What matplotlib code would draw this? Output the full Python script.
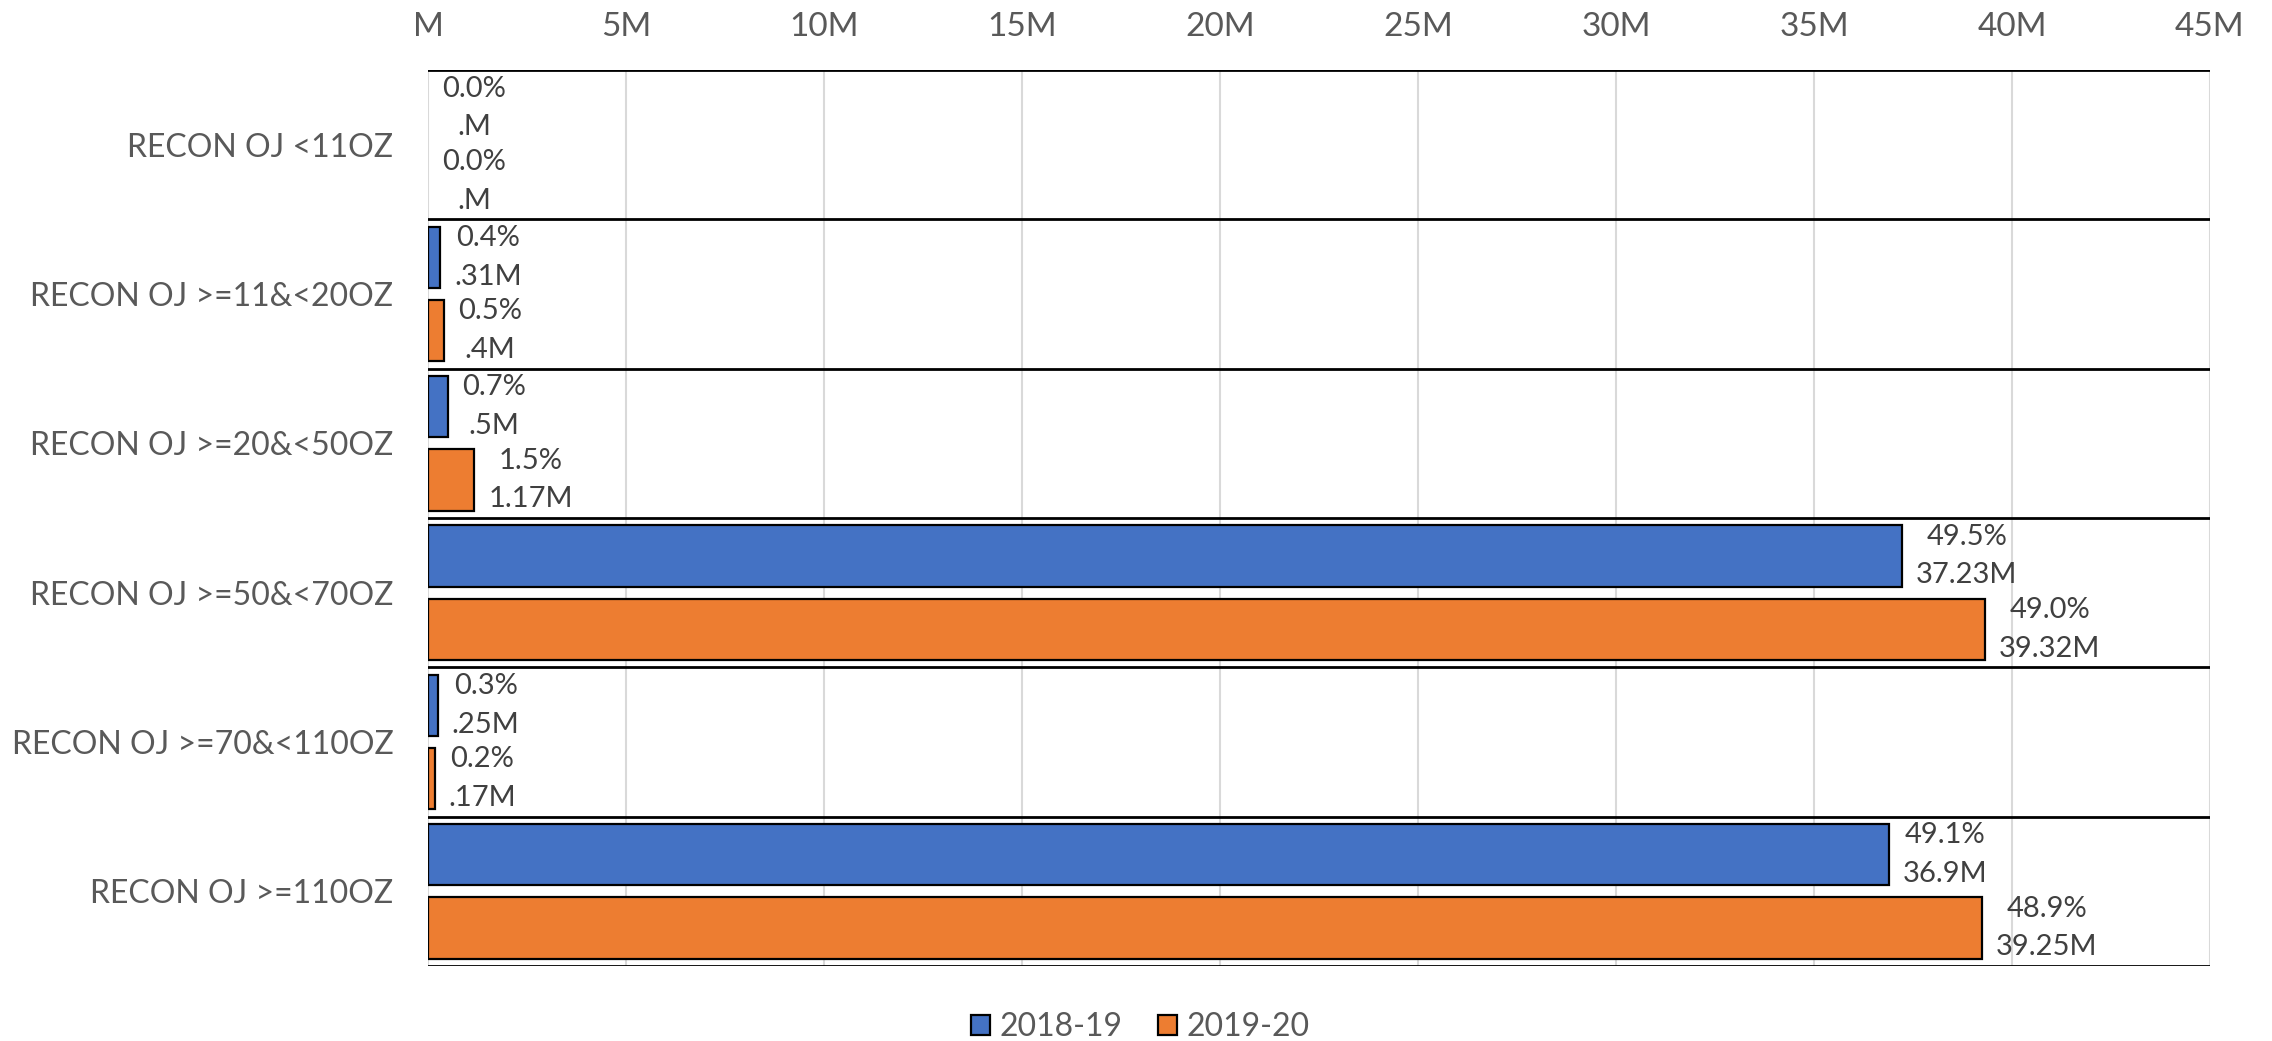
import matplotlib.pyplot as plt
import numpy as np

plt.rcParams['font.family'] = ['Lato', 'DejaVu Sans']

categories = ["RECON OJ <11OZ", "RECON OJ >=11&<20OZ", "RECON OJ >=20&<50OZ",
              "RECON OJ >=50&<70OZ", "RECON OJ >=70&<110OZ", "RECON OJ >=110OZ"]
series = ["2018-19", "2019-20"]
vals_1819 = [0.0, 0.31, 0.5, 37.23, 0.25, 36.9]      # millions
vals_1920 = [0.0, 0.4, 1.17, 39.32, 0.17, 39.25]
pct_1819 = [0.0, 0.4, 0.7, 49.5, 0.3, 49.1]
pct_1920 = [0.0, 0.5, 1.5, 49.0, 0.2, 48.9]
lbl_1819 = [".M", ".31M", ".5M", "37.23M", ".25M", "36.9M"]
lbl_1920 = [".M", ".4M", "1.17M", "39.32M", ".17M", "39.25M"]
xticks = [0, 5, 10, 15, 20, 25, 30, 35, 40, 45]
xticklabels = ["M", "5M", "10M", "15M", "20M", "25M", "30M", "35M", "40M", "45M"]

colors = ["#4472C4", "#ED7D31"]

fig = plt.figure(figsize=(22.72, 10.41), dpi=100)
ax = fig.add_axes([0.1884, 0.072, 0.7843, 0.8608])

y = np.arange(len(categories))
h = 0.41
off = 0.246

data = [(vals_1819, pct_1819, lbl_1819), (vals_1920, pct_1920, lbl_1920)]
for k, (vals, pcts, lbls) in enumerate(data):
    pos = y - off if k == 0 else y + off
    edges = ['black' if v > 0 else 'none' for v in vals]
    ax.barh(pos, vals, height=h, color=colors[k], edgecolor=edges,
            linewidth=1.6, zorder=3)
    for p, v, pc, lb in zip(pos, vals, pcts, lbls):
        ax.annotate("%.1f%%\n%s" % (pc, lb), xy=(v, p), xytext=(10, 0),
                    textcoords='offset points', ha='left', va='center',
                    multialignment='center', fontsize=21, color='#404040',
                    linespacing=1.6, zorder=4)

# category separators
for b in np.arange(len(categories) + 1) - 0.5:
    ax.axhline(b, color='black', linewidth=2, zorder=2)

ax.set_xlim(0, 45)
ax.set_ylim(len(categories) - 0.5, -0.5)
ax.set_xticks(xticks)
ax.set_xticklabels(xticklabels)
ax.xaxis.tick_top()
ax.tick_params(axis='x', length=0, pad=20, labelsize=24, labelcolor='#595959')
ax.set_yticks(y)
ax.set_yticklabels(categories)
ax.tick_params(axis='y', length=0, pad=25, labelsize=23, labelcolor='#595959')
ax.grid(axis='x', color='#d9d9d9', linewidth=1.5, zorder=0)
for s in ax.spines.values():
    s.set_visible(False)

handles = [plt.Rectangle((0, 0), 1, 1, facecolor=c, edgecolor='black', linewidth=1.6)
           for c in colors]
fig.legend(handles, series, loc='center', bbox_to_anchor=(0.502, 0.013), ncol=2,
           frameon=False, fontsize=23, labelcolor='#595959', handlelength=0.6,
           handleheight=0.6, handletextpad=0.3, columnspacing=1.1)

fig.savefig("out.png", dpi=100)
